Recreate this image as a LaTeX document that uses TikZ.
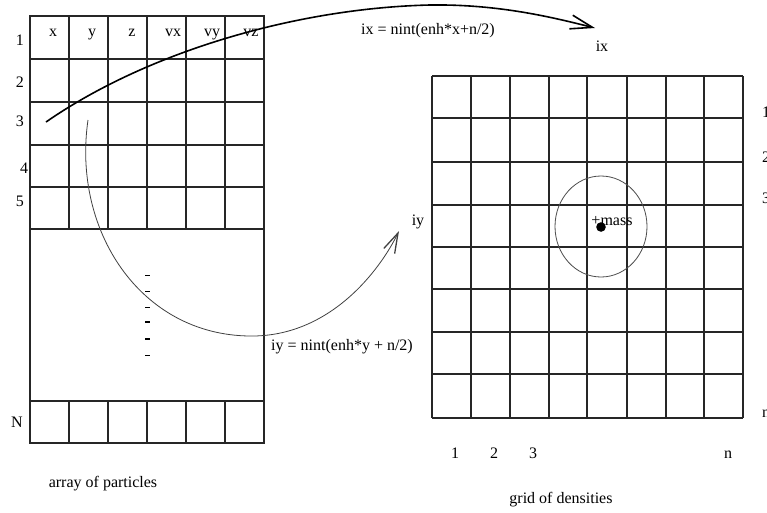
\documentclass[tikz,border=0pt]{standalone}
\usepackage{fontspec}
\setmainfont{Liberation Serif}
\usetikzlibrary{arrows.meta}
\begin{document}
\begin{tikzpicture}[x=1pt,y=-1pt,
  gridline/.style={line width=1.1pt, black!85},
  lbl/.style={inner sep=0pt, anchor=base, font=\fontsize{16}{19}\selectfont},
  lbll/.style={inner sep=0pt, anchor=base west, font=\fontsize{16}{19}\selectfont},
  bigarc/.style={line width=1.6pt, black, -{Straight Barb[length=22pt,width=14pt,line width=1.6pt]}},
  thinarc/.style={line width=0.8pt, black!75, -{Straight Barb[length=20pt,width=12pt,line width=1.3pt]}},
  halo/.style={line width=0.8pt, black!70},
  tick/.style={line width=1pt, black},
  boldtick/.style={line width=2pt, black}]
\useasboundingbox (0,0) rectangle (767,512);

% ---------- array of particles ----------
\draw[gridline] (30,16) rectangle (264,443);
\foreach \x in {69,108,147,186,225} {
  \draw[gridline] (\x,16) -- (\x,229);
  \draw[gridline] (\x,401) -- (\x,443);
}
\foreach \y in {59,102,145,187,229,401}
  \draw[gridline] (30,\y) -- (264,\y);

\node[lbl] (cx)  at (53,36)  {x};
\node[lbl] (cy)  at (92,36)  {y};
\node[lbl] (cz)  at (132,36) {z};
\node[lbl] (cvx) at (173,36) {vx};
\node[lbl] (cvy) at (212,36) {vy};
\node[lbl] (cvz) at (251,36) {vz};

\node[lbl] (r1) at (20,45)  {1};
\node[lbl] (r2) at (20,87)  {2};
\node[lbl] (r3) at (20,126) {3};
\node[lbl] (r4) at (24,173) {4};
\node[lbl] (r5) at (20,206) {5};
\node[lbl] (rN) at (17,427) {N};

\draw[tick]     (145,275) -- (150,275);
\draw[tick]     (145,291) -- (150,291);
\draw[tick]     (145,307) -- (150,307);
\draw[boldtick] (145,322) -- (150,322);
\draw[boldtick] (145,339) -- (150,339);
\draw[tick]     (145,355) -- (150,355);

\node[lbl] (arrlabel) at (103,487) {array of particles};

% ---------- grid of densities ----------
\foreach \x in {432,471,510,549,587,627,666,704,743}
  \draw[gridline] (\x,76) -- (\x,418);
\foreach \y in {76,118,162,205,247,289,332,374,418}
  \draw[gridline] (432,\y) -- (743,\y);

\node[lbl] (b1) at (455,458) {1};
\node[lbl] (b2) at (494,458) {2};
\node[lbl] (b3) at (533,458) {3};
\node[lbl] (bn) at (728,458) {n};

\node[lbll] (s1) at (762,117) {1};
\node[lbll] (s2) at (762,162) {2};
\node[lbll] (s3) at (762,203) {3};
\node[lbll] (sn) at (762,417) {n};

\node[lbl] (gridlabel) at (561,503) {grid of densities};

% mass and its neighbourhood
\draw[halo] (601,226.5) ellipse [x radius=46, y radius=50.5];
\fill (601,227) circle [radius=4.8];
\node[lbl] (mass) at (612,225) {+mass};

% ---------- mapping arrows ----------
\coordinate (xstart) at (46,122);
\coordinate (xpeak)  at (430,5);
\coordinate (xend)   at (595,28);
\coordinate (ystart) at (88,120);
\coordinate (ylow)   at (250,336);
\coordinate (yend)   at (399,231);

\draw[bigarc] (xstart) .. controls (150,50) and (300,8) .. (xpeak)
              .. controls (500,4) and (555,18) .. (xend);
\draw[thinarc] (ystart) .. controls (72,230) and (140,335) .. (ylow)
               .. controls (330,337) and (380,270) .. (yend);

\node[lbl] (ixformula) at (428,34) {ix = nint(enh*x+n/2)};
\node[lbl] (ix) at (602,51) {ix};
\node[lbl] (iy) at (418,225) {iy};
\node[lbl] (iyformula) at (342,350) {iy = nint(enh*y + n/2)};
\end{tikzpicture}
\end{document}
